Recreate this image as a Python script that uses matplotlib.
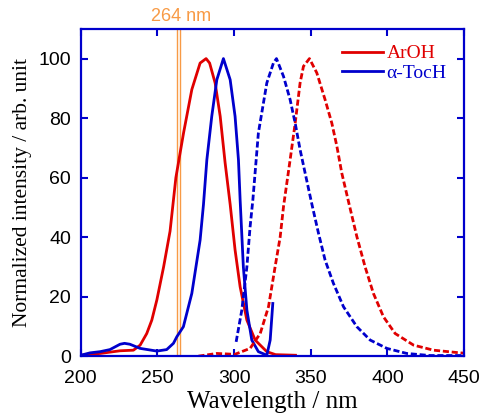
import numpy as np
import matplotlib.pyplot as plt

# ArOH absorption (solid red)
aroh_abs_x = [200, 206, 212.6, 225.6, 234.3, 238.7, 243, 246.3, 249.6, 254, 258.2, 262, 267,
              272.4, 277.8, 281.7, 284, 287.6, 290.9, 294.1, 297.4, 300.6, 303.9, 308.3,
              313.7, 321.3, 327, 340]
aroh_abs_y = [0.3, 0.6, 0.9, 1.8, 2, 3.7, 7.6, 12.1, 18.9, 30, 42, 60, 75,
              89.6, 98.5, 100, 98.5, 91.8, 80.6, 65, 51, 35.7, 23.3, 12.1,
              5.4, 1.5, 0.5, 0.3]

# alpha-TocH absorption (solid blue)
toc_abs_x = [200, 206, 212.6, 219, 225.6, 228.5, 232, 238.7, 249.6, 256, 260.4, 262.6, 266.9,
             272.4, 277.8, 280, 282.2, 285.4, 288.7, 293, 297.4, 300.6, 302.8, 303.9, 306,
             308.3, 311.5, 315.8, 321.3, 323.5, 325.2]
toc_abs_y = [0.3, 1.1, 1.5, 2.2, 4, 4.3, 4, 2.6, 1.7, 2.2, 4.3, 6.5, 9.9,
             21.1, 39, 51, 66, 80.6, 92.9, 100, 92.9, 80.6, 66, 52.5, 30,
             15.5, 5.4, 1.5, 0.3, 5.4, 17.7]

# ArOH emission (dashed red)
aroh_em_x = [276.7, 288.7, 300.4, 310.4, 317, 322.4, 326.7, 330, 332.2, 336.5, 339.8, 343,
             345.2, 349.1, 353.9, 359.3, 363.7, 367, 370.2, 375, 380, 385.4, 390.8, 397.4,
             405, 417, 430, 447.4, 450]
aroh_em_y = [0, 0.9, 0.6, 2.6, 7.6, 16.6, 30, 40, 50.3, 66, 78.3, 91.8,
             97.4, 100, 95.2, 86.2, 78.3, 70.5, 61.5, 51, 40.2, 30, 21.1, 13.2,
             7.6, 3.7, 2, 1.1, 1]

# alpha-TocH emission (dashed blue)
toc_em_x = [301.3, 305, 308.3, 310.4, 312.2, 315.8, 321.3, 325.6, 327.6, 332.2, 336.5, 339.8,
            343, 346.3, 350.5, 355, 359.3, 364.7, 371.3, 380, 388.7, 399.6, 412.6, 427.8, 450]
toc_em_y = [4.8, 15.5, 30, 43.5, 52.5, 75, 91.8, 98.5, 100, 94, 86.2, 78.3,
            69.4, 61.5, 51.5, 41.3, 32.3, 24.5, 16.6, 9.9, 5.4, 2.6, 0.9, 0.2, 0.2]

excitation = [262.6, 264.5]

red = '#e00000'
blue = '#0000cc'
orange = '#f89a45'

fig = plt.figure(figsize=(4.81, 4.18), dpi=100)
ax = fig.add_axes([0.168, 0.148, 0.797, 0.783])

for xe in excitation:
    ax.axvline(xe, color=orange, lw=1.0)
ax.text(265.7, 111.3, '264 nm', color=orange, ha='center', va='bottom',
        fontsize=13, family='Liberation Sans')

ax.plot(aroh_abs_x, aroh_abs_y, color=red, lw=2, label='ArOH')
ax.plot(toc_abs_x, toc_abs_y, color=blue, lw=2, label='α-TocH')
ax.plot(aroh_em_x, aroh_em_y, color=red, lw=2, ls=(0, (2.2, 1)))
ax.plot(toc_em_x, toc_em_y, color=blue, lw=2, ls=(0, (2.2, 1)))

ax.set_xlim(200, 450)
ax.set_ylim(0, 110)
ax.set_xticks(np.arange(200, 451, 50))
ax.set_yticks(np.arange(0, 101, 20))
ax.tick_params(direction='in', top=True, right=True, length=5, width=1.5, color=blue,
               labelsize=14, labelfontfamily='Liberation Sans')
ax.tick_params(axis='x', pad=10)
ax.tick_params(axis='y', pad=7)
for sp in ax.spines.values():
    sp.set_color(blue)
    sp.set_linewidth(1.6)

ax.set_xlabel('Wavelength / nm', family='Liberation Serif', fontsize=18, labelpad=3)
ax.set_ylabel('Normalized intensity / arb. unit', family='Liberation Serif', fontsize=15.5,
              labelpad=5)

leg = ax.legend(loc='upper right', frameon=False, prop={'family': 'Liberation Serif', 'size': 14},
                handlelength=2.1, handletextpad=0.2, labelspacing=0.1,
                bbox_to_anchor=(1.0, 1.005))
for txt, c in zip(leg.get_texts(), [red, blue]):
    txt.set_color(c)

fig.savefig('out.png', dpi=100)
